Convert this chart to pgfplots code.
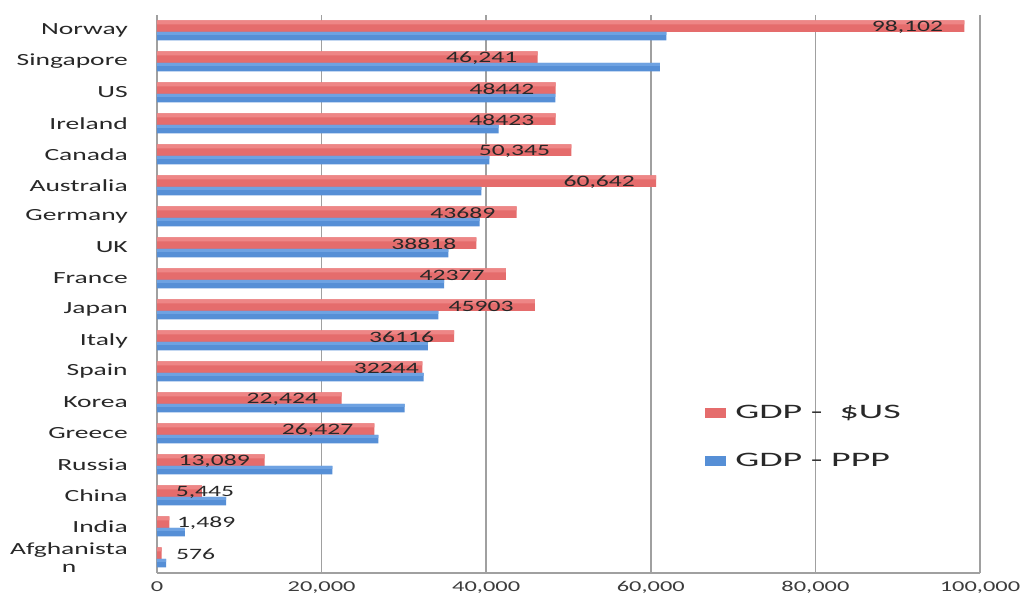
\documentclass[border=0pt]{standalone}
\usepackage{pgfplots}
\pgfplotsset{compat=1.18}
\usepackage{pgfplotstable}
\usepackage{fontspec}
\setmainfont{Carlito}[FakeStretch=1.62]
\newfontfamily\legfont{Carlito}[FakeStretch=1.85]

\definecolor{gridgray}{RGB}{160,160,160}
\definecolor{redbar}{RGB}{229,108,108}
\definecolor{redhi}{RGB}{238,134,134}
\definecolor{bluebar}{RGB}{86,143,214}
\definecolor{bluehi}{RGB}{110,162,226}
\definecolor{txt}{RGB}{40,40,40}
\definecolor{ticktxt}{RGB}{60,60,60}

% GDP per country: y index (0 = Afghanistan ... 17 = Norway)
\pgfplotstableread{
y usd ppp
17 98102 61900
16 46241 61100
15 48442 48400
14 48423 41500
13 50345 40400
12 60642 39400
11 43689 39200
10 38818 35400
9 42377 34900
8 45903 34200
7 36116 32900
6 32244 32400
5 22424 30100
4 26427 26900
3 13089 21300
2 5445 8400
1 1489 3400
0 576 1100
}\data

% data labels placed inside the end of the red bars (right edge)
\pgfplotstableread{
x y lbl
95550 17.1 98,102
43811 16.1 46,241
45890 15.1 48442
45871 14.1 48423
47793 13.1 50,345
58090 12.1 60,642
41137 11.1 43689
36388 10.1 38818
39825 9.1 42377
43351 8.1 45903
33686 7.1 36116
31839 6.1 32244
19589 5.1 22,424
23875 4.1 26,427
11307 3.1 13,089
}\lblin

% data labels too wide for the bar: start near the base (left edge)
\pgfplotstableread{
x y lbl
2250 2.1 5,445
2400 1.1 1,489
2300 0.1 576
}\lblout

\begin{document}
\begin{tikzpicture}
\useasboundingbox (0pt,0pt) rectangle (769.5pt,447pt);
\begin{axis}[
  at={(117.75pt,17.25pt)}, anchor=south west,
  scale only axis, width=617.25pt, height=418.5pt,
  xmin=0, xmax=100000, ymin=-0.5, ymax=17.5,
  xtick={0,20000,40000,60000,80000,100000},
  xticklabels={0,{20,000},{40,000},{60,000},{80,000},{100,000}},
  ytick={0,1,...,17},
  yticklabels={{Afghanista\\n},India,China,Russia,Greece,Korea,Spain,Italy,Japan,France,UK,Germany,Australia,Canada,Ireland,US,Singapore,Norway},
  major tick length=0pt,
  xmajorgrids,
  grid style={gridgray, line width=1.2pt},
  axis x line*=bottom, axis y line*=left,
  axis line style={gridgray, line width=1.2pt},
  xticklabel style={font=\fontsize{11.3}{13}\selectfont, text=ticktxt, anchor=north, inner sep=0pt, yshift=-6.3pt},
  yticklabel style={font=\fontsize{12.75}{13.5}\selectfont, text=txt, align=center, anchor=east, inner sep=0pt, xshift=-21.75pt},
  legend style={draw=none, fill=none, at={(0.666,0.2437)}, anchor=west, inner sep=0pt,
    row sep=24.5pt, column sep=6.75pt, font=\legfont\fontsize{15.4}{16}\selectfont, text=txt,
    nodes={inner sep=0pt}},
  legend cell align=left,
]
\addplot[xbar, bar width=8.6pt, bar shift=3.2pt, draw=none, fill=redbar,
  legend image code/.code={\path[fill=redbar] (0pt,-3.4pt) rectangle (15.75pt,3.4pt);}
] table[x=usd, y=y] {\data};
\addlegendentry{GDP -\ \ \$US}
\addplot[xbar, bar width=6.4pt, bar shift=-4.3pt, draw=none, fill=bluebar,
  legend image code/.code={\path[fill=bluebar] (0pt,-3.4pt) rectangle (15.75pt,3.4pt);}
] table[x=ppp, y=y] {\data};
\addlegendentry{GDP - PPP}
% lighter top highlight of each bar
\addplot[forget plot, xbar, bar width=3pt, bar shift=6pt, draw=none, fill=redhi]
  table[x=usd, y=y] {\data};
\addplot[forget plot, xbar, bar width=2.2pt, bar shift=-2.2pt, draw=none, fill=bluehi]
  table[x=ppp, y=y] {\data};
\addplot[forget plot, only marks, mark=none,
  nodes near coords, point meta=explicit symbolic,
  every node near coord/.append style={anchor=east, font=\fontsize{11.85}{13}\selectfont, text=txt, inner sep=0pt}
] table[x=x, y=y, meta=lbl] {\lblin};
\addplot[forget plot, only marks, mark=none,
  nodes near coords, point meta=explicit symbolic,
  every node near coord/.append style={anchor=west, font=\fontsize{11.85}{13}\selectfont, text=txt, inner sep=0pt}
] table[x=x, y=y, meta=lbl] {\lblout};
\end{axis}
\end{tikzpicture}
\end{document}
